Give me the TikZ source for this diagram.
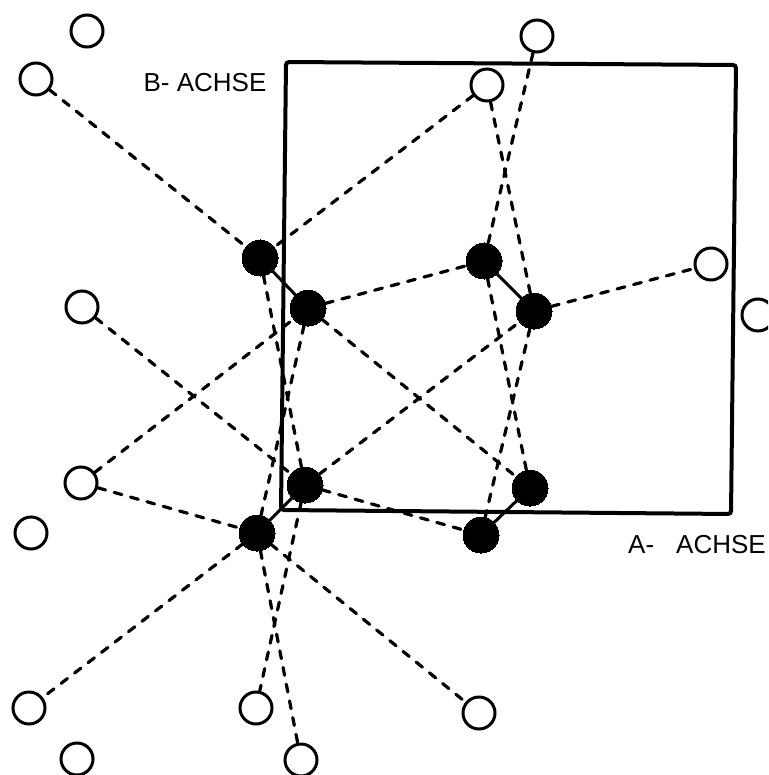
\documentclass[tikz,border=0pt]{standalone}
\usepackage{fontspec}
\setmainfont{Liberation Sans}
\tikzset{
  open/.style={circle,draw=black,line width=3pt,fill=white,minimum size=32pt,inner sep=0pt},
  full/.style={circle,draw=black,fill=black,line width=0pt,minimum size=36pt,inner sep=0pt},
  bond/.style={line width=3pt,black},
  hbond/.style={line width=3.2pt,black,line cap=round,dash pattern=on 8pt off 9pt},
  axis/.style={line width=4pt,black,rounded corners=3pt},
  lab/.style={font=\fontsize{26}{30}\selectfont,inner sep=0pt,text=black}
}
\begin{document}
\begin{tikzpicture}[x=1pt,y=-1pt]
\useasboundingbox (0,0) rectangle (768,775);
\clip (0,0) rectangle (768,775);
\coordinate (s1) at (286,62);
\coordinate (s2) at (736,65);
\coordinate (s3) at (731,514);
\coordinate (s4) at (281,510);
\draw[axis] (s1) -- (s2) -- (s3) -- (s4) -- cycle;
% open circles
\foreach \n/\x/\y in {o1/87/31,o2/537/36,o3/36/79,o4/487/85,o5/711/264,o6/82/307,o7/758/315,o8/81/483,o9/31/533,o10/29/708,o11/256/708,o12/479/713,o13/77/759,o14/301/760}
  \node[open] (\n) at (\x,\y) {};
% filled circles
\foreach \n/\x/\y in {a/260/258,b/308/308,c/484/261,d/534/311,e/305/485,f/530/488,g/257/533,h/481/535}
  \node[full] (\n) at (\x,\y) {};
\draw[bond] (a) -- (b);
\draw[bond] (c) -- (d);
\draw[bond] (e) -- (g);
\draw[bond] (f) -- (h);
\foreach \p/\q in {o3/a,o4/a,o4/d,o2/c,b/c,d/o5,o6/e,b/f,o8/b,e/d,a/e,b/g,c/f,d/h,o8/g,e/h,g/o10,e/o11,g/o12,g/o14}
  \draw[hbond] (\p) -- (\q);
\node[lab] (bl) at (205,83) {B- ACHSE};
\node[lab] (al) at (697,545) {A-\hspace{22pt}ACHSE};
\end{tikzpicture}
\end{document}
